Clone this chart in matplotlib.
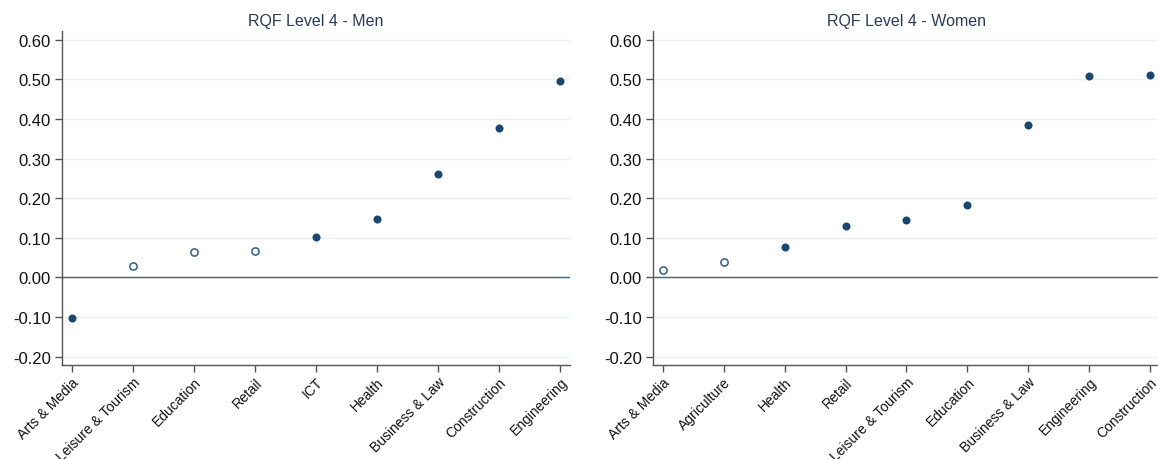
import matplotlib
matplotlib.use("Agg")
import matplotlib.pyplot as plt
import numpy as np

plt.rcParams['font.family'] = ['Liberation Sans', 'DejaVu Sans']

men_categories = ["Arts & Media", "Leisure & Tourism", "Education", "Retail", "ICT",
                  "Health", "Business & Law", "Construction", "Engineering"]
men_values = [-0.103, 0.028, 0.063, 0.066, 0.101, 0.148, 0.261, 0.378, 0.496]
men_significant = [True, False, False, False, True, True, True, True, True]

women_categories = ["Arts & Media", "Agriculture", "Health", "Retail", "Leisure & Tourism",
                    "Education", "Business & Law", "Engineering", "Construction"]
women_values = [0.019, 0.039, 0.077, 0.131, 0.145, 0.182, 0.385, 0.509, 0.511]
women_significant = [False, False, True, True, True, True, True, True, True]

yticks = [-0.20, -0.10, 0.00, 0.10, 0.20, 0.30, 0.40, 0.50, 0.60]
titles = ["RQF Level 4 - Men", "RQF Level 4 - Women"]

W, H = 1158, 460
fig = plt.figure(figsize=(W / 100, H / 100), dpi=100)
navy = "#1a476f"
grid_c = "#eaf1f3"
spine_c = "#555555"

axes_px = [(62, 570), (653, 1160)]
top_px, bot_px = 32, 366

panels = [(men_categories, men_values, men_significant),
          (women_categories, women_values, women_significant)]

for (x0, x1), (cats, vals, sig), title in zip(axes_px, panels, titles):
    ax = fig.add_axes([x0 / W, 1 - bot_px / H, (x1 - x0) / W, (bot_px - top_px) / H])
    x = np.arange(len(cats))
    vals = np.array(vals)
    sig = np.array(sig)
    for yv in yticks:
        ax.axhline(yv, color=grid_c, lw=1.0, zorder=0)
    ax.axhline(0, color="#35648c", lw=1.0, zorder=1)
    ax.plot(x[sig], vals[sig], 'o', color=navy, markersize=5.8, markeredgewidth=0, zorder=3)
    ax.plot(x[~sig], vals[~sig], 'o', markerfacecolor='white', markeredgecolor="#2f5f88",
            markersize=5.2, markeredgewidth=1.1, zorder=3)
    ax.set_xlim(-0.16, len(cats) - 1 + 0.16)
    ax.set_ylim(-0.221, 0.622)
    ax.set_yticks(yticks)
    ax.set_yticklabels([f"{v:.2f}" for v in yticks], fontsize=12, color="#111111")
    ax.set_xticks(x)
    ax.set_xticklabels(cats, rotation=45, ha='right', rotation_mode='anchor', fontsize=10,
                       color="#111111")
    for s in ['top', 'right']:
        ax.spines[s].set_visible(False)
    for s in ['left', 'bottom']:
        ax.spines[s].set_color(spine_c)
        ax.spines[s].set_linewidth(1.0)
    ax.tick_params(axis='y', direction='out', length=5, width=1, color=spine_c, pad=3)
    ax.tick_params(axis='x', direction='out', length=5, width=1, color=spine_c, pad=2)
    ax.set_title(title, fontsize=11.5, color="#2b3a55", pad=4)
    ax.set_facecolor('white')

fig.savefig("out.png", dpi=100, facecolor='white')
